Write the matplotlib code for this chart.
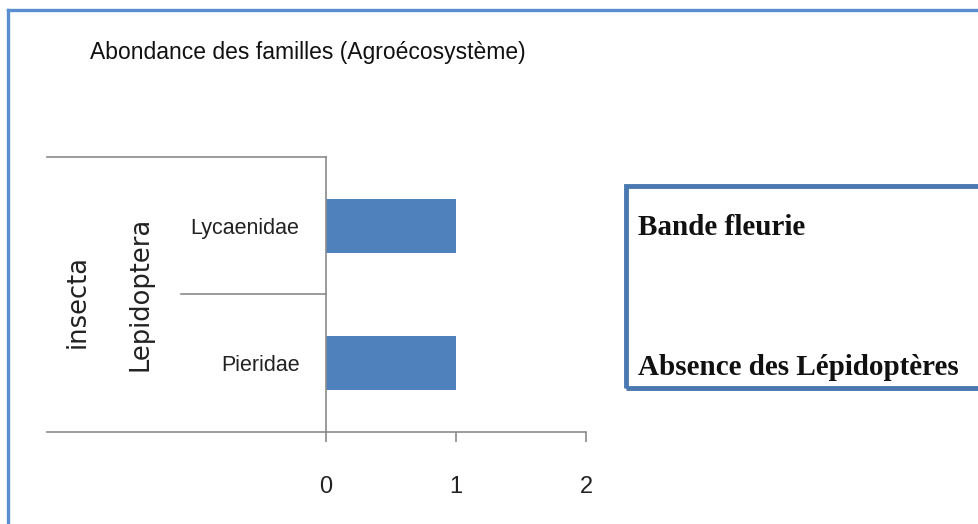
import matplotlib
matplotlib.use("Agg")
import matplotlib.pyplot as plt
from matplotlib import font_manager
from matplotlib.lines import Line2D
from matplotlib.patches import Rectangle

# ---- data ----
categories = ["Pieridae", "Lycaenidae"]
values = [1, 1]
order_label = "Lepidoptera"
class_label = "insecta"
xticks = [0, 1, 2]
title = "Abondance des familles (Agroécosystème)"
box_lines = ["Bande fleurie", "Absence des Lépidoptères"]

names = {f.name for f in font_manager.fontManager.ttflist}
narrow = "Liberation Sans Narrow" if "Liberation Sans Narrow" in names else "Liberation Sans"

W, H = 979, 524
fig = plt.figure(figsize=(W / 100, H / 100), dpi=100)
fig.patch.set_facecolor("white")

def fx(px):
    return px / W

def fy(py):
    return 1 - py / H

grey = "#8a8a8a"
blue_bar = "#4f81bd"

ax = fig.add_axes([fx(326), fy(432), fx(586) - fx(326), fy(157) - fy(432)])
ax.barh(range(len(categories)), values, height=0.39, color=blue_bar)
ax.set_xlim(0, 2)
ax.set_ylim(-0.5, len(categories) - 0.5)
for s in ["top", "right"]:
    ax.spines[s].set_visible(False)
ax.spines["left"].set_color(grey)
ax.spines["bottom"].set_color(grey)
ax.spines["left"].set_linewidth(1.2)
ax.spines["bottom"].set_linewidth(1.2)
ax.set_xticks(xticks)
ax.set_xticklabels([str(t) for t in xticks], fontfamily=narrow, fontsize=17, color="#222222")
ax.tick_params(axis="x", length=7.5, width=1.2, color=grey, pad=24)
ax.set_yticks(range(len(categories)))
ax.set_yticklabels(categories, fontfamily=narrow, fontsize=15.5, color="#222222")
ax.tick_params(axis="y", length=0, pad=19)
ax.set_facecolor("none")

# hierarchical category lines
lw = 1.2
fig.add_artist(Line2D([fx(47), fx(326)], [fy(157), fy(157)], color=grey, lw=lw))
fig.add_artist(Line2D([fx(47), fx(326)], [fy(432), fy(432)], color=grey, lw=lw))
fig.add_artist(Line2D([fx(181), fx(326)], [fy(294), fy(294)], color=grey, lw=lw))

fig.text(fx(141), fy(294), order_label, rotation=90, ha="center", va="center",
         fontfamily="DejaVu Sans", fontsize=18.5, color="#222222")
fig.text(fx(78), fy(302), class_label, rotation=90, ha="center", va="center",
         fontfamily="DejaVu Sans", fontsize=18.5, color="#222222")

# title
fig.text(fx(90), fy(52), title, ha="left", va="center", fontfamily=narrow,
         fontsize=16.5, color="#111111")

# outer frame (blue lines top and left)
fig.add_artist(Line2D([fx(8.5), fx(W + 5)], [fy(10), fy(10)], color="#5a8ed0", lw=2.4))
fig.add_artist(Line2D([fx(8.5), fx(8.5)], [fy(10), fy(H + 5)], color="#5a8ed0", lw=2.4))

# text box
fig.add_artist(Rectangle((fx(626), fy(388)), fx(400), fy(186) - fy(388),
                         transform=fig.transFigure, fill=False,
                         edgecolor="#4a78b0", lw=3.5, joinstyle="miter"))
fig.text(fx(638), fy(235), box_lines[0], ha="left", va="baseline",
         fontfamily="Liberation Serif", fontweight="bold", fontsize=21, color="#111111")
fig.text(fx(638), fy(375), box_lines[1], ha="left", va="baseline",
         fontfamily="Liberation Serif", fontweight="bold", fontsize=21, color="#111111")

fig.savefig("out.png", dpi=100)
